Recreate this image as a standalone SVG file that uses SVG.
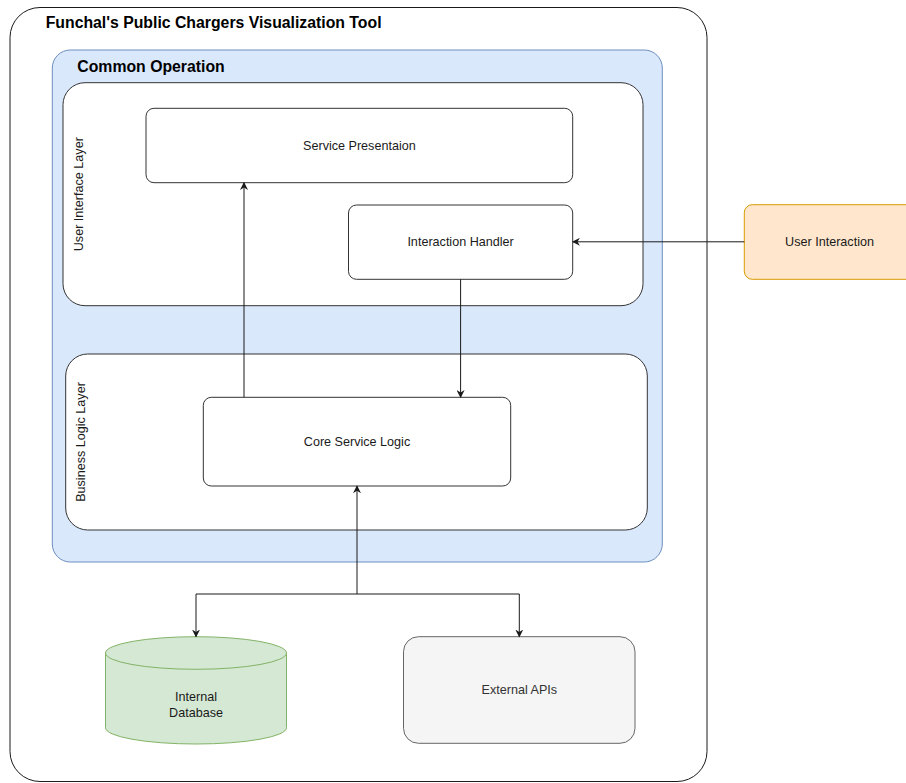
<svg xmlns="http://www.w3.org/2000/svg" width="906" height="783" viewBox="0 0 906 783">
  <style>
    .lbl { font-family: "Liberation Sans", Arial, Helvetica, sans-serif; font-size: 12.6px; fill: #1a1a1a; text-anchor: middle; }
    .ttl { font-family: "Liberation Sans", Arial, Helvetica, sans-serif; font-size: 15.8px; font-weight: bold; fill: #000; }
    .box { fill: #ffffff; stroke: #333333; stroke-width: 1; }
    .edge { fill: none; stroke: #1a1a1a; stroke-width: 1; }
  </style>
  <defs>
    <marker id="arrow" viewBox="0 0 10 10" refX="9" refY="5" markerWidth="8" markerHeight="8" markerUnits="userSpaceOnUse" orient="auto">
      <path d="M0,0 L10,5 L0,10 L3,5 Z" fill="#1a1a1a"/>
    </marker>
  </defs>

  <!-- application frame -->
  <g id="tool">
    <rect x="10" y="7.5" width="697" height="774" rx="30" ry="30" fill="#ffffff" stroke="#1a1a1a" stroke-width="1"/>
    <text class="ttl" x="45.7" y="28.3">Funchal's Public Chargers Visualization Tool</text>
  </g>

  <!-- shared operation container -->
  <g id="common-operation">
    <rect x="52.3" y="50" width="610" height="512" rx="18" ry="18" fill="#dae8fc" stroke="#6c8ebf" stroke-width="1"/>
    <text class="ttl" x="77.3" y="71.7">Common Operation</text>
  </g>

  <g id="ui-layer">
    <rect class="box" x="63" y="82.7" width="580" height="223" rx="22" ry="22"/>
    <text class="lbl" x="83" y="194.2" transform="rotate(-90 83 194.2)">User Interface Layer</text>
  </g>

  <g id="business-layer">
    <rect class="box" x="65.7" y="354" width="581.6" height="176" rx="22" ry="22"/>
    <text class="lbl" x="85" y="442" transform="rotate(-90 85 442)">Business Logic Layer</text>
  </g>

  <g id="service-presentation">
    <rect class="box" x="146" y="108.3" width="426.7" height="74.4" rx="8" ry="8"/>
    <text class="lbl" x="359.4" y="150.4">Service Presentaion</text>
  </g>

  <g id="interaction-handler">
    <rect class="box" x="348.5" y="205" width="224.2" height="74.3" rx="8" ry="8"/>
    <text class="lbl" x="460.6" y="246.4">Interaction Handler</text>
  </g>

  <g id="user-interaction">
    <rect x="744.3" y="204.7" width="170" height="74.6" rx="8" ry="8" fill="#ffe6cc" stroke="#d79b00" stroke-width="1"/>
    <text class="lbl" x="829.5" y="246.4">User Interaction</text>
  </g>

  <g id="core-service-logic">
    <rect class="box" x="203.3" y="397.3" width="307.4" height="88.7" rx="8" ry="8"/>
    <text class="lbl" x="357" y="446.4">Core Service Logic</text>
  </g>

  <g id="internal-database">
    <path d="M105.5,653 L105.5,727.7 A90.5,16.3 0 0 0 286.5,727.7 L286.5,653 A90.5,16.3 0 0 0 105.5,653 Z" fill="#d5e8d4" stroke="#82b366" stroke-width="1"/>
    <path d="M105.5,653 A90.5,16.3 0 0 0 286.5,653" fill="none" stroke="#82b366" stroke-width="1"/>
    <text class="lbl" x="196" y="701">Internal</text>
    <text class="lbl" x="196" y="716.7">Database</text>
  </g>

  <g id="external-apis">
    <rect x="403.5" y="636.7" width="231.5" height="106.6" rx="15" ry="15" fill="#f5f5f5" stroke="#666666" stroke-width="1"/>
    <text class="lbl" x="519.3" y="694.4" style="fill:#333333">External APIs</text>
  </g>

  <!-- connectors -->
  <g id="connectors">
    <path class="edge" d="M744.3,241.8 L572.7,241.8" marker-end="url(#arrow)"/>
    <path class="edge" d="M460.6,279.3 L460.6,397.3" marker-end="url(#arrow)"/>
    <path class="edge" d="M244,397.3 L244,182.7" marker-end="url(#arrow)"/>
    <path class="edge" d="M357,594 L357,486" marker-end="url(#arrow)"/>
    <path class="edge" d="M357,594 L196,594 L196,636.7" marker-end="url(#arrow)"/>
    <path class="edge" d="M357,594 L519.3,594 L519.3,636.7" marker-end="url(#arrow)"/>
  </g>
</svg>
